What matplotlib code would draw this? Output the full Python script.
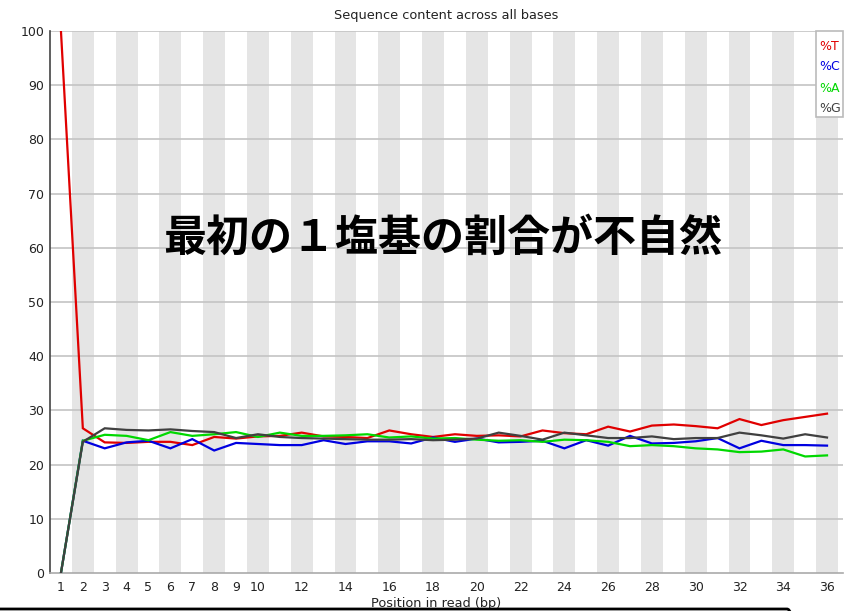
import matplotlib
matplotlib.use("Agg")
import matplotlib.pyplot as plt
from matplotlib.patches import FancyBboxPatch
import numpy as np

positions = list(range(1, 37))
pct_T = [100, 26.7, 24.1, 24.0, 24.2, 24.2, 23.6, 25.1, 24.8, 25.2, 25.3, 25.9, 25.2, 25.1,
         24.9, 26.3, 25.6, 25.1, 25.6, 25.3, 25.4, 25.2, 26.3, 25.8, 25.6, 27.0, 26.1, 27.2,
         27.4, 27.1, 26.7, 28.4, 27.3, 28.2, 28.8, 29.4]
pct_C = [0, 24.4, 23.0, 24.1, 24.4, 23.0, 24.7, 22.6, 24.0, 23.8, 23.6, 23.6, 24.5, 23.8,
         24.3, 24.3, 23.9, 25.0, 24.2, 24.8, 24.1, 24.2, 24.4, 23.0, 24.5, 23.5, 25.3, 23.9,
         24.0, 24.3, 24.9, 23.0, 24.4, 23.6, 23.6, 23.5]
pct_A = [0, 24.4, 25.5, 25.3, 24.5, 26.0, 25.3, 25.6, 26.0, 25.1, 25.9, 25.3, 25.3, 25.4,
         25.6, 25.0, 25.2, 24.8, 24.9, 24.6, 24.4, 24.5, 24.2, 24.6, 24.5, 24.2, 23.4, 23.6,
         23.4, 23.0, 22.8, 22.3, 22.4, 22.8, 21.5, 21.7]
pct_G = [0, 24.2, 26.7, 26.4, 26.3, 26.5, 26.2, 26.0, 24.9, 25.6, 25.1, 24.9, 24.8, 24.7,
         24.6, 24.6, 24.7, 24.5, 24.6, 24.8, 25.9, 25.3, 24.6, 25.9, 25.4, 24.9, 24.9, 25.2,
         24.7, 24.9, 24.9, 25.9, 25.4, 24.8, 25.6, 25.0]
series_names = ["%T", "%C", "%A", "%G"]
series_colors = ["#e00000", "#0000e0", "#00d800", "#404040"]
xtick_labels = [str(i) for i in range(1, 11)] + [str(i) for i in range(12, 37, 2)]
xtick_pos = list(range(1, 11)) + list(range(12, 37, 2))
title = "Sequence content across all bases"
xlabel = "Position in read (bp)"
overlay_text = "最初の１塩基の割合が不自然"

W, H = 850, 611
fig = plt.figure(figsize=(W / 100, H / 100), dpi=100)
ax = fig.add_axes([50 / W, (H - 573) / H, (843 - 50) / W, (573 - 31) / H])

ax.set_xlim(0.5, 36.73)
ax.set_ylim(0, 100)

# alternating stripes
for p in positions:
    if p % 2 == 0:
        ax.axvspan(p - 0.5, p + 0.5, color="#e5e5e5", lw=0, zorder=0)

for yv in range(10, 101, 10):
    ax.axhline(yv, color="#c4c4c4", lw=1.2, zorder=1)

for vals, col in zip([pct_T, pct_C, pct_A, pct_G], series_colors):
    ax.plot(positions, vals, color=col, lw=1.6, zorder=3, solid_joinstyle="miter")

ax.set_xticks(xtick_pos)
ax.set_xticklabels(xtick_labels)
ax.set_yticks(range(0, 101, 10))
ax.tick_params(axis="both", length=0, labelsize=9, colors="#222222")
ax.tick_params(axis="y", pad=4)
ax.tick_params(axis="x", pad=6)
for s in ["top", "right"]:
    ax.spines[s].set_visible(False)
ax.spines["left"].set_color("#444444")
ax.spines["bottom"].set_color("#aaaaaa")
ax.spines["left"].set_linewidth(1.2)
ax.spines["bottom"].set_linewidth(1.2)

fig.text(446 / W, 1 - 15 / H, title, ha="center", va="center", fontsize=9.3, color="#222222")
fig.text(436 / W, 1 - 604 / H, xlabel, ha="center", va="center", fontsize=9.3, color="#222222")

# legend box
lg = FancyBboxPatch((816 / W, 1 - 117 / H), 27 / W, 86 / H, boxstyle="square,pad=0",
                    transform=fig.transFigure, facecolor="white", edgecolor="#bbbbbb", lw=1.2, zorder=5)
fig.patches.append(lg)
for i, (nm, col) in enumerate(zip(series_names, series_colors)):
    fig.text(819 / W, 1 - (46 + 21 * i) / H, nm, ha="left", va="center", fontsize=9, color=col, zorder=6)

fig.text(443 / W, 1 - 238 / H, overlay_text, ha="center", va="center", fontsize=31,
         fontweight="bold", color="black", family=["Noto Sans CJK JP", "DejaVu Sans"], zorder=10)

# rounded black frame at the bottom (top edge visible at the figure's bottom)
frame = FancyBboxPatch((-0.3, -1.0), (797 + 30) / 100, (100 + 611 - 609) / 100,
                       boxstyle="round,pad=0,rounding_size=0.1", transform=fig.dpi_scale_trans,
                       facecolor="none", edgecolor="black", lw=2, zorder=20, clip_on=False)
fig.patches.append(frame)

fig.savefig("out.png", dpi=100, facecolor="white")
